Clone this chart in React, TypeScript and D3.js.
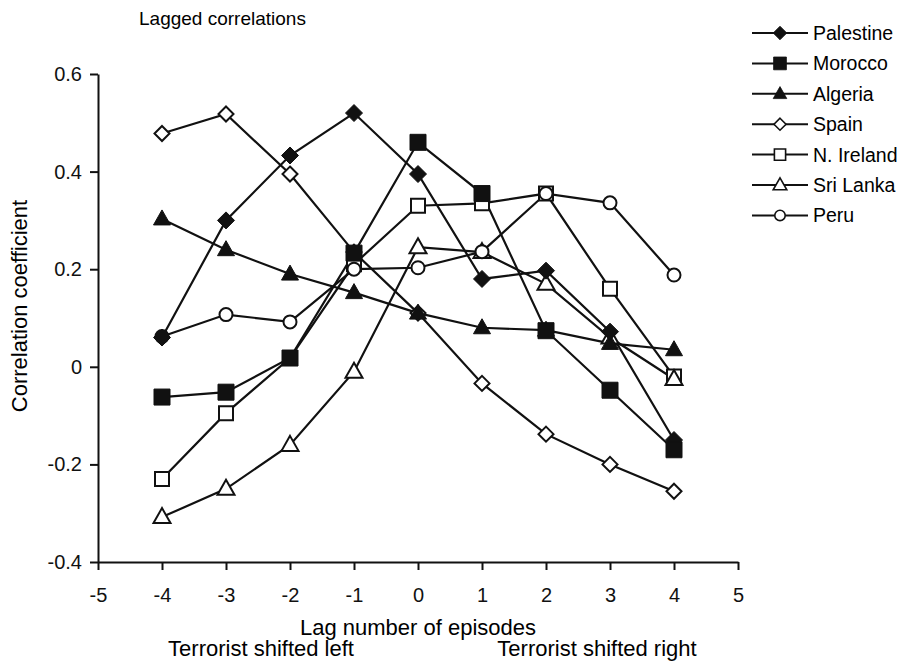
import * as d3 from 'd3';
import React, { useEffect, useRef } from 'react';

const lags = [-4, -3, -2, -1, 0, 1, 2, 3, 4];
const xTicks = [-5, -4, -3, -2, -1, 0, 1, 2, 3, 4, 5];
const yTicks = [-0.4, -0.2, 0, 0.2, 0.4, 0.6];

const palestine = [0.06, 0.3, 0.433, 0.52, 0.395, 0.18, 0.197, 0.072, -0.15];
const morocco = [-0.062, -0.052, 0.018, 0.233, 0.46, 0.355, 0.074, -0.048, -0.17];
const algeria = [0.303, 0.24, 0.19, 0.152, 0.11, 0.08, 0.075, 0.048, 0.035];
const spain = [0.478, 0.518, 0.395, 0.235, 0.11, -0.034, -0.138, -0.2, -0.255];
const nIreland = [-0.23, -0.095, 0.018, 0.21, 0.33, 0.335, 0.355, 0.16, -0.02];
const sriLanka = [-0.308, -0.25, -0.16, -0.01, 0.245, 0.235, 0.17, 0.06, -0.025];
const peru = [0.062, 0.107, 0.092, 0.2, 0.203, 0.236, 0.355, 0.336, 0.188];

const seriesNames = ['Palestine', 'Morocco', 'Algeria', 'Spain', 'N. Ireland', 'Sri Lanka', 'Peru'];
const seriesValues = [palestine, morocco, algeria, spain, nIreland, sriLanka, peru];
const seriesMarkers = ['diamond', 'square', 'triangle', 'diamond', 'square', 'triangle', 'circle'];
const seriesFilled = [true, true, true, false, false, false, false];
// draw order for the markers, so the overlaps look like the original
const markerOrder = [3, 4, 5, 6, 2, 0, 1];

const FONT = '"Liberation Sans", Arial, sans-serif';

// marker outline centred on 0,0
const markerPath = (type: string, filled: boolean) => {
  if (type === 'diamond') {
    const r = filled ? 8.5 : 7.5;
    return `M0,${-r}L${r},0L0,${r}L${-r},0Z`;
  }
  if (type === 'square') {
    const r = filled ? 8 : 7;
    return `M${-r},${-r}H${r}V${r}H${-r}Z`;
  }
  if (type === 'triangle') {
    const w = 8.5;
    const h = 15;
    return `M0,${-h * 0.6}L${w},${h * 0.4}L${-w},${h * 0.4}Z`;
  }
  const r = 6.5;
  return `M${r},0A${r},${r} 0 1,1 ${-r},0A${r},${r} 0 1,1 ${r},0Z`;
};

// plain hyphen instead of d3's unicode minus
const fmtY = (d: number) => (d === 0 ? '0' : d.toFixed(1));
const fmtX = (d: number) => String(d);

const LaggedChart = () => {
  const chartRef = useRef<SVGSVGElement>(null);

  useEffect(() => {
    drawChart();
  }, []);

  const drawChart = () => {
    const svg = d3.select(chartRef.current);
    svg.selectAll('*').remove();

    const x = d3.scaleLinear().domain([-5, 5]).range([98, 738]);
    const y = d3.scaleLinear().domain([-0.4, 0.6]).range([562, 74]);

    svg.append('rect').attr('width', 902).attr('height', 664).attr('fill', 'white');

    // title
    svg.append('text')
      .attr('x', 139).attr('y', 25)
      .style('font-family', FONT).style('font-size', '19px')
      .text('Lagged correlations');

    // y axis
    const yAxis = svg.append('g')
      .attr('transform', `translate(${x(-5)},0)`)
      .call(d3.axisLeft(y).tickValues(yTicks).tickSize(8).tickSizeOuter(0)
        .tickFormat(d => fmtY(d as number)));
    yAxis.select('.domain').attr('stroke', '#111').attr('stroke-width', 2);
    yAxis.selectAll('.tick line').attr('stroke', '#111').attr('stroke-width', 2);
    yAxis.selectAll('.tick text')
      .attr('x', -16)
      .style('font-family', FONT).style('font-size', '20px').attr('fill', '#111');

    // x axis
    const xAxis = svg.append('g')
      .attr('transform', `translate(0,${y(-0.4)})`)
      .call(d3.axisBottom(x).tickValues(xTicks).tickSize(8).tickSizeOuter(0)
        .tickFormat(d => fmtX(d as number)));
    xAxis.select('.domain').attr('stroke', '#111').attr('stroke-width', 2);
    xAxis.selectAll('.tick line').attr('stroke', '#111').attr('stroke-width', 2);
    xAxis.selectAll('.tick text')
      .attr('y', 26)
      .style('font-family', FONT).style('font-size', '20px').attr('fill', '#111');

    // axis titles
    svg.append('text')
      .attr('x', x(0)).attr('y', 635)
      .attr('text-anchor', 'middle')
      .style('font-family', FONT).style('font-size', '22px')
      .text('Lag number of episodes');
    svg.append('text')
      .attr('x', 261).attr('y', 656)
      .attr('text-anchor', 'middle')
      .style('font-family', FONT).style('font-size', '22px')
      .text('Terrorist shifted left');
    svg.append('text')
      .attr('x', 597).attr('y', 656)
      .attr('text-anchor', 'middle')
      .style('font-family', FONT).style('font-size', '22px')
      .text('Terrorist shifted right');
    svg.append('text')
      .attr('transform', 'translate(27,306) rotate(-90)')
      .attr('text-anchor', 'middle')
      .style('font-family', FONT).style('font-size', '22px')
      .text('Correlation coefficient');

    // lines
    const line = d3.line<number>()
      .x((d, i) => x(lags[i]))
      .y(d => y(d));
    seriesValues.forEach(vals => {
      svg.append('path')
        .attr('d', line(vals))
        .attr('fill', 'none')
        .attr('stroke', '#111')
        .attr('stroke-width', 2.2);
    });

    // markers
    markerOrder.forEach(s => {
      svg.append('g').selectAll('path')
        .data(seriesValues[s])
        .enter().append('path')
        .attr('d', markerPath(seriesMarkers[s], seriesFilled[s]))
        .attr('transform', (d, i) => `translate(${x(lags[i])},${y(d)})`)
        .attr('fill', seriesFilled[s] ? '#111' : 'white')
        .attr('stroke', '#111')
        .attr('stroke-width', seriesFilled[s] ? 1 : 2);
    });

    // legend
    const legend = svg.append('g');
    seriesNames.forEach((name, i) => {
      const ly = 33 + i * 30.4;
      legend.append('line')
        .attr('x1', 752).attr('x2', 808)
        .attr('y1', ly).attr('y2', ly)
        .attr('stroke', '#111').attr('stroke-width', 2);
      legend.append('path')
        .attr('d', markerPath(seriesMarkers[i], seriesFilled[i]))
        .attr('transform', `translate(780,${ly}) scale(0.8)`)
        .attr('fill', seriesFilled[i] ? '#111' : 'white')
        .attr('stroke', '#111')
        .attr('stroke-width', seriesFilled[i] ? 1 : 2);
      legend.append('text')
        .attr('x', 813).attr('y', ly + 7)
        .style('font-family', FONT).style('font-size', '19.5px')
        .text(name);
    });
  };

  return (
    <svg ref={chartRef} width={902} height={664}
      style={{ position: 'absolute', left: 0, top: 0 }}></svg>
  );
};

export default function App() {
  return <LaggedChart />;
}
